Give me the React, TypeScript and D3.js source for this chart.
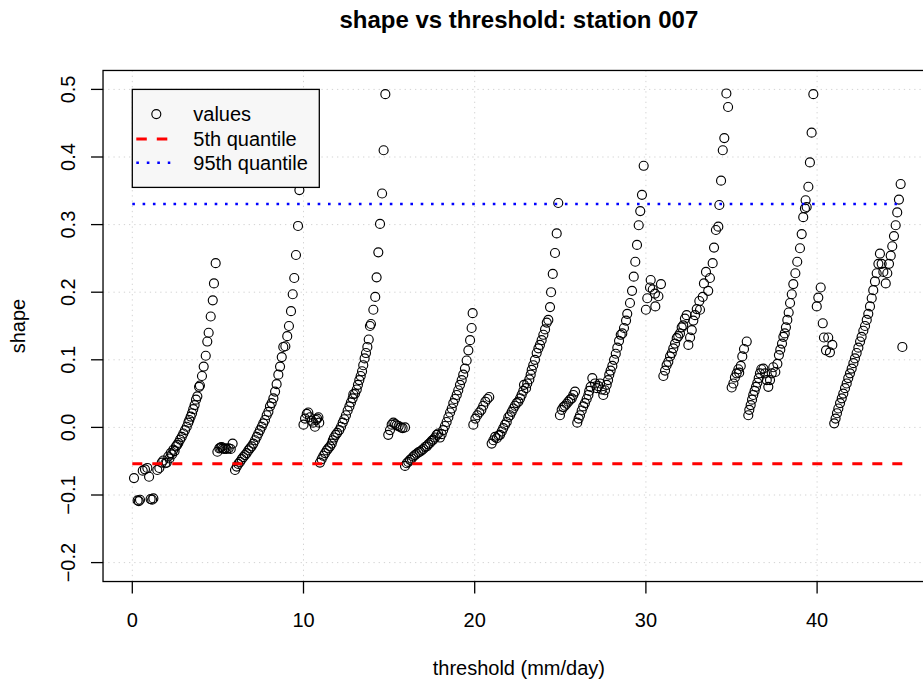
import React from "react";
import * as d3 from "d3";

// ---- data (threshold mm/day, shape), by 5-unit block ----
const block1: [number, number][] = [
  [0.10,-0.075],[0.31,-0.108],[0.38,-0.109],[0.45,-0.107],[0.61,-0.064],[0.74,-0.062],[0.88,-0.060],[0.98,-0.073],
  [1.07,-0.106],[1.16,-0.107],[1.23,-0.105],[1.46,-0.063],[1.58,-0.060],[1.72,-0.052],[1.81,-0.049],[1.93,-0.053],
  [2.01,-0.052],[2.10,-0.043],[2.17,-0.046],[2.24,-0.038],[2.32,-0.040],[2.40,-0.033],[2.47,-0.035],[2.55,-0.028],
  [2.62,-0.026],[2.69,-0.023],[2.79,-0.018],[2.89,-0.014],[2.98,-0.009],[3.08,-0.004],[3.18,0.001],[3.27,0.007],
  [3.33,0.011],[3.41,0.016],[3.49,0.021],[3.56,0.027],[3.64,0.033],[3.72,0.041],[3.80,0.046],[3.90,0.060],
  [3.95,0.062],[4.07,0.076],[4.17,0.090],[4.29,0.106],[4.38,0.127],[4.46,0.140],[4.58,0.164],[4.70,0.188],
  [4.77,0.213],[4.87,0.243],
];
const block2: [number, number][] = [
  [4.97,-0.036],[5.08,-0.031],[5.15,-0.030],[5.22,-0.029],[5.29,-0.031],[5.36,-0.032],[5.44,-0.031],[5.51,-0.032],
  [5.63,-0.031],[5.75,-0.032],[5.86,-0.024],
  [6.00,-0.063],[6.10,-0.058],[6.19,-0.054],[6.29,-0.051],[6.39,-0.047],[6.48,-0.044],[6.58,-0.041],[6.68,-0.038],
  [6.78,-0.034],[6.87,-0.031],[6.97,-0.028],[7.07,-0.024],[7.17,-0.019],[7.27,-0.014],[7.36,-0.009],[7.46,-0.004],
  [7.56,0.001],[7.65,0.006],[7.75,0.011],[7.85,0.018],[7.95,0.023],[8.04,0.031],[8.14,0.036],[8.24,0.043],
  [8.34,0.053],[8.43,0.064],[8.53,0.078],[8.63,0.090],[8.73,0.104],[8.82,0.119],[8.94,0.120],[9.05,0.135],
  [9.15,0.150],[9.27,0.172],[9.37,0.197],[9.46,0.221],[9.56,0.255],[9.68,0.298],[9.76,0.351],
];
const block3: [number, number][] = [
  [10.00,0.004],[10.09,0.013],[10.19,0.020],[10.28,0.022],[10.38,0.015],[10.48,0.010],[10.57,0.007],[10.67,0.001],
  [10.73,0.011],[10.80,0.013],[10.87,0.015],[10.92,0.007],
  [10.96,-0.052],[11.06,-0.047],[11.16,-0.042],[11.26,-0.038],[11.36,-0.034],[11.45,-0.031],[11.55,-0.028],
  [11.65,-0.024],[11.71,-0.019],[11.78,-0.015],[11.88,-0.011],[11.97,-0.008],[12.09,-0.004],[12.19,0.001],
  [12.29,0.007],[12.38,0.012],[12.48,0.018],[12.58,0.025],[12.68,0.031],[12.77,0.037],[12.87,0.043],[12.91,0.049],
  [13.01,0.050],[13.11,0.056],[13.18,0.063],[13.26,0.070],[13.34,0.076],[13.42,0.083],[13.49,0.092],[13.57,0.102],
  [13.65,0.110],[13.73,0.119],[13.81,0.130],[13.88,0.150],[13.94,0.153],[14.08,0.174],[14.19,0.193],[14.27,0.222],
  [14.37,0.259],[14.47,0.301],[14.59,0.346],[14.68,0.410],[14.78,0.493],
];
const block4: [number, number][] = [
  [14.95,-0.011],[15.05,-0.004],[15.15,0.004],[15.25,0.007],[15.35,0.005],[15.44,0.003],[15.56,0.002],[15.68,0.000],
  [15.79,-0.001],[15.93,0.000],
  [15.93,-0.057],[16.03,-0.053],[16.12,-0.051],[16.22,-0.048],[16.32,-0.046],[16.41,-0.043],[16.51,-0.041],
  [16.61,-0.039],[16.71,-0.037],[16.80,-0.036],[16.90,-0.034],[17.00,-0.032],[17.10,-0.029],[17.20,-0.028],
  [17.29,-0.025],[17.39,-0.023],[17.49,-0.020],[17.58,-0.018],[17.68,-0.015],[17.78,-0.011],[17.87,-0.009],
  [17.97,-0.015],[18.07,-0.010],[18.16,-0.004],[18.26,0.002],[18.36,0.008],[18.46,0.015],[18.56,0.022],
  [18.66,0.028],[18.75,0.036],[18.85,0.042],[18.95,0.048],[19.04,0.055],[19.14,0.063],[19.24,0.070],[19.33,0.078],
  [19.43,0.087],[19.53,0.099],[19.63,0.114],[19.73,0.129],[19.82,0.147],[19.88,0.169],
];
const block5: [number, number][] = [
  [19.92,0.004],[20.04,0.013],[20.15,0.018],[20.27,0.022],[20.39,0.026],[20.50,0.032],[20.62,0.038],[20.74,0.042],
  [20.85,0.045],
  [20.99,-0.024],[21.09,-0.019],[21.19,-0.014],[21.29,-0.016],[21.39,-0.012],[21.48,-0.011],[21.58,-0.006],
  [21.67,-0.001],[21.77,0.004],[21.87,0.008],[21.96,0.015],[22.06,0.018],[22.16,0.023],[22.26,0.028],[22.35,0.032],
  [22.45,0.036],[22.55,0.038],[22.65,0.043],[22.74,0.048],[22.84,0.054],[22.88,0.063],[23.00,0.058],[23.07,0.065],
  [23.19,0.071],[23.27,0.078],[23.33,0.085],[23.42,0.092],[23.52,0.100],[23.62,0.110],[23.72,0.117],[23.81,0.122],
  [23.91,0.129],[24.01,0.137],[24.11,0.145],[24.21,0.155],[24.30,0.159],[24.40,0.178],[24.46,0.200],[24.56,0.227],
  [24.69,0.258],[24.79,0.287],[24.88,0.332],
];
const block6: [number, number][] = [
  [24.98,0.018],[25.08,0.026],[25.18,0.030],[25.27,0.032],[25.37,0.035],[25.47,0.038],[25.57,0.041],[25.67,0.043],
  [25.76,0.048],[25.86,0.053],
  [25.99,0.007],[26.07,0.013],[26.15,0.018],[26.25,0.025],[26.34,0.031],[26.44,0.036],[26.54,0.042],[26.64,0.048],
  [26.69,0.054],[26.77,0.060],[26.87,0.073],[27.03,0.065],[27.13,0.058],[27.22,0.061],[27.32,0.065],[27.42,0.056],
  [27.51,0.048],[27.61,0.055],[27.71,0.063],[27.79,0.070],[27.86,0.078],[27.94,0.084],[28.04,0.091],[28.14,0.100],
  [28.24,0.109],[28.33,0.118],[28.43,0.128],[28.53,0.137],[28.62,0.139],[28.72,0.147],[28.84,0.158],[28.91,0.168],
  [29.07,0.184],[29.19,0.202],[29.29,0.223],[29.38,0.245],[29.48,0.270],[29.58,0.299],[29.67,0.320],[29.77,0.344],
  [29.87,0.387],
];
const block7: [number, number][] = [
  [30.00,0.174],[30.08,0.191],[30.24,0.207],[30.28,0.218],[30.40,0.204],[30.53,0.198],[30.55,0.179],[30.73,0.194],
  [30.88,0.212],
  [31.02,0.076],[31.12,0.084],[31.21,0.092],[31.31,0.097],[31.41,0.105],[31.51,0.110],[31.60,0.117],[31.70,0.124],
  [31.80,0.132],[31.89,0.135],[31.99,0.139],[32.09,0.148],[32.18,0.151],[32.28,0.161],[32.38,0.166],[32.48,0.122],
  [32.58,0.133],[32.68,0.144],[32.77,0.158],[32.87,0.166],[32.97,0.175],[33.12,0.187],[33.16,0.174],[33.32,0.193],
  [33.39,0.213],[33.51,0.230],[33.64,0.202],[33.74,0.221],[33.90,0.243],[33.98,0.266],[34.09,0.292],[34.23,0.297],
  [34.29,0.329],[34.39,0.365],[34.49,0.410],[34.58,0.428],[34.70,0.494],[34.80,0.474],
];
const block8: [number, number][] = [
  [35.01,0.059],[35.11,0.065],[35.20,0.074],[35.30,0.080],[35.40,0.086],[35.45,0.081],[35.54,0.091],[35.63,0.105],
  [35.73,0.116],[35.89,0.127],
  [35.98,0.018],[36.04,0.026],[36.12,0.033],[36.20,0.041],[36.27,0.048],[36.35,0.054],[36.43,0.060],[36.51,0.066],
  [36.59,0.073],[36.66,0.080],[36.74,0.086],[36.86,0.087],[36.96,0.080],[37.06,0.070],[37.15,0.060],[37.25,0.070],
  [37.35,0.080],[37.44,0.089],[37.56,0.082],[37.68,0.094],[37.77,0.107],[37.85,0.115],[37.95,0.124],[38.03,0.134],
  [38.11,0.139],[38.18,0.148],[38.26,0.159],[38.34,0.170],[38.42,0.184],[38.52,0.197],[38.61,0.212],[38.73,0.228],
  [38.84,0.245],[39.00,0.265],[39.10,0.286],[39.19,0.311],[39.29,0.324],[39.33,0.336],[39.39,0.326],[39.49,0.356],
  [39.58,0.392],[39.68,0.436],[39.78,0.493],
];
const block9: [number, number][] = [
  [39.98,0.179],[40.07,0.192],[40.21,0.207],[40.33,0.154],[40.40,0.133],[40.52,0.114],[40.65,0.133],[40.75,0.111],
  [40.89,0.122],
  [41.00,0.006],[41.08,0.013],[41.16,0.021],[41.24,0.028],[41.34,0.036],[41.44,0.043],[41.53,0.050],[41.63,0.058],
  [41.73,0.065],[41.82,0.073],[41.92,0.080],[42.02,0.087],[42.12,0.095],[42.21,0.102],[42.31,0.110],[42.41,0.118],
  [42.51,0.127],[42.60,0.134],[42.70,0.143],[42.80,0.150],[42.90,0.159],[42.99,0.168],[43.09,0.179],[43.19,0.191],
  [43.28,0.203],[43.38,0.216],[43.48,0.228],[43.58,0.242],[43.67,0.257],[43.77,0.242],[43.87,0.230],[44.01,0.213],
  [44.10,0.228],[44.20,0.242],[44.30,0.254],[44.39,0.268],[44.49,0.283],[44.59,0.299],[44.68,0.318],[44.78,0.337],
  [44.88,0.360],[44.98,0.119],
];

const q05 = -0.0537;
const q95 = 0.3305;
const lineRange = [0, 45];

const xTicks = [0, 10, 20, 30, 40];
const yTicks = [-0.2, -0.1, 0.0, 0.1, 0.2, 0.3, 0.4, 0.5];
const yTickLabels = ["\u22120.2", "\u22120.1", "0.0", "0.1", "0.2", "0.3", "0.4", "0.5"];
const legendLabels = ["values", "5th quantile", "95th quantile"];

const titleText = "shape vs threshold: station 007";
const xTitle = "threshold (mm/day)";
const yTitle = "shape";

const W = 923;
const H = 684;
const FONT = "'Liberation Sans', Arial, Helvetica, sans-serif";

export default function App() {
  const points = [
    ...block1, ...block2, ...block3, ...block4, ...block5,
    ...block6, ...block7, ...block8, ...block9,
  ];

  const x = d3.scaleLinear().domain([0, 45]).range([132.3, 902.7]);
  const y = d3.scaleLinear().domain([-0.2, 0.5]).range([562.6, 89.4]);

  const left = x(-1.71);
  const right = x(46.87);
  const top = y(0.528);
  const bottom = y(-0.228);
  const cx = (left + right) / 2;
  const cy = (top + bottom) / 2;

  const legX = x(0);
  const legY = y(0.5);

  return (
    <svg
      width={W}
      height={H}
      style={{ position: "absolute", left: 0, top: 0, background: "#fff" }}
      fontFamily={FONT}
    >
      <rect x={0} y={0} width={W} height={H} fill="#fff" />
      {/* grid */}
      <g stroke="#D3D3D3" strokeWidth={1} strokeDasharray="1.3 3.9">
        {xTicks.map((t) => (
          <line key={"gx" + t} x1={x(t)} x2={x(t)} y1={top} y2={bottom} />
        ))}
        {yTicks.map((t) => (
          <line key={"gy" + t} x1={left} x2={right} y1={y(t)} y2={y(t)} />
        ))}
      </g>

      {/* points */}
      <g fill="none" stroke="#000" strokeWidth={1.15}>
        {points.map((p, i) => (
          <circle key={i} cx={x(p[0])} cy={y(p[1])} r={4.5} />
        ))}
      </g>

      {/* quantile lines */}
      <line x1={x(lineRange[0])} x2={x(lineRange[1])} y1={y(q05)} y2={y(q05)}
        stroke="#FF0000" strokeWidth={3} strokeDasharray="10 10" />
      <line x1={x(lineRange[0])} x2={x(lineRange[1])} y1={y(q95)} y2={y(q95)}
        stroke="#0000FF" strokeWidth={2.6} strokeDasharray="2.6 7.7" />

      {/* box */}
      <rect x={left} y={top} width={right - left} height={bottom - top}
        fill="none" stroke="#000" strokeWidth={1.3} />

      {/* axes ticks */}
      <g stroke="#000" strokeWidth={1.3}>
        {xTicks.map((t) => (
          <line key={"tx" + t} x1={x(t)} x2={x(t)} y1={bottom} y2={bottom + 12} />
        ))}
        {yTicks.map((t) => (
          <line key={"ty" + t} x1={left - 12} x2={left} y1={y(t)} y2={y(t)} />
        ))}
      </g>
      <g fontSize={20} fill="#000" textAnchor="middle">
        {xTicks.map((t) => (
          <text key={"lx" + t} x={x(t)} y={627}>{t}</text>
        ))}
        {yTicks.map((t, i) => (
          <text key={"ly" + t} transform={`translate(75,${y(t)}) rotate(-90)`}>{yTickLabels[i]}</text>
        ))}
        <text x={cx} y={675}>{xTitle}</text>
        <text transform={`translate(25,${cy}) rotate(-90)`}>{yTitle}</text>
      </g>
      <text x={cx} y={28} fontSize={24} fontWeight="bold" textAnchor="middle" fill="#000">
        {titleText}
      </text>

      {/* legend */}
      <rect x={legX} y={legY} width={187} height={98} fill="#F7F7F7" stroke="#000" strokeWidth={1.3} />
      <circle cx={legX + 24} cy={legY + 24.7} r={4.5} fill="none" stroke="#000" strokeWidth={1.15} />
      <line x1={legX + 4} x2={legX + 35} y1={legY + 49.7} y2={legY + 49.7}
        stroke="#FF0000" strokeWidth={3} strokeDasharray="10.5 10" />
      <line x1={legX + 4} x2={legX + 38} y1={legY + 73.4} y2={legY + 73.4}
        stroke="#0000FF" strokeWidth={2.6} strokeDasharray="2.6 7.9" />
      <g fontSize={20} fill="#000">
        {legendLabels.map((l, i) => (
          <text key={l} x={legX + 61} y={legY + 31.7 + i * 24.5}>{l}</text>
        ))}
      </g>
    </svg>
  );
}
